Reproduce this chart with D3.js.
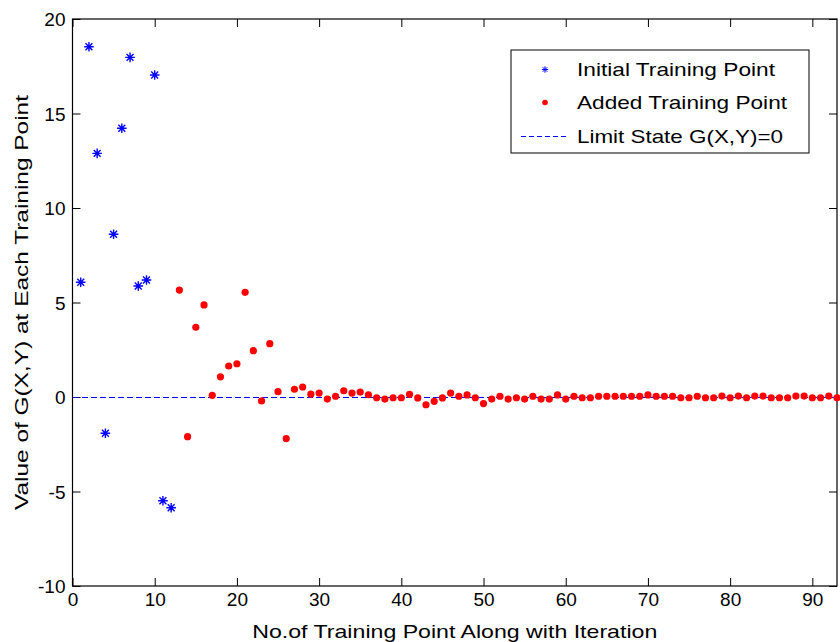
<!DOCTYPE html>
<html>
<head>
<meta charset="utf-8">
<script src="https://cdn.jsdelivr.net/npm/d3@7"></script>
<style>
body { margin: 0; background: #fff; }
text { font-family: "Liberation Sans", Arial, sans-serif; }
</style>
</head>
<body>
<script>
// initial training points (iterations 1..12)
var initX = [1, 2, 3, 4, 5, 6, 7, 8, 9, 10, 11, 12];
var initY = [6.07, 18.53, 12.89, -1.92, 8.61, 14.22, 17.97, 5.87, 6.19, 17.04, -5.49, -5.86];

// added training points (iterations 13..93)
var addedY = [5.66, -2.1, 3.69, 4.87, 0.09, 1.07, 1.64, 1.76, 5.54, 2.45,
  -0.21, 2.82, 0.28, -2.2, 0.41, 0.53, 0.15, 0.21, -0.11, 0.04,
  0.33, 0.21, 0.26, 0.12, -0.04, -0.11, -0.04, -0.04, 0.14, -0.05,
  -0.41, -0.23, -0.05, 0.21, 0.04, 0.11, -0.04, -0.35, -0.11, 0.04,
  -0.11, -0.04, -0.11, 0.04, -0.11, -0.11, 0.11, -0.11, 0.04, -0.04,
  -0.04, 0.04, 0.04, 0.04, 0.04, 0.04, 0.04, 0.11, 0.04, 0.04,
  0.04, -0.04, -0.04, 0.04, -0.04, -0.04, 0.05, -0.04, 0.05, -0.04,
  0.05, 0.05, -0.04, -0.04, -0.04, 0.05, 0.05, -0.04, -0.04, 0.05,
  -0.04];
var addedX = addedY.map(function(d, i) { return i + 13; });

var xTicks = [0, 10, 20, 30, 40, 50, 60, 70, 80, 90];
var yTicks = [-10, -5, 0, 5, 10, 15, 20];
var legendLabels = ["Initial Training Point", "Added Training Point", "Limit State G(X,Y)=0"];

var margin = {top: 19, right: 3, bottom: 56, left: 72.5},
  width = 840 - margin.left - margin.right,
  height = 642 - margin.top - margin.bottom;

var svg = d3.select("body").append("svg")
  .attr("width", 840)
  .attr("height", 642)
  .append("g")
  .attr("transform", "translate(" + margin.left + "," + margin.top + ")");

var xScale = d3.scaleLinear().domain([0, 93]).range([0, width]);
var yScale = d3.scaleLinear().domain([-10, 20]).range([height, 0]);

var tickLen = 8;
var fmt = function(d) { return String(d); };

// axes, ticks pointing inward (bottom/left with labels, top/right without)
var xAxis = d3.axisBottom(xScale).tickValues(xTicks).tickSize(-tickLen).tickPadding(7).tickFormat(fmt);
var yAxis = d3.axisLeft(yScale).tickValues(yTicks).tickSize(-tickLen).tickPadding(7).tickFormat(fmt);

var gx = svg.append("g")
  .attr("transform", "translate(0," + height + ")")
  .call(xAxis);
var gy = svg.append("g").call(yAxis);
var gxt = svg.append("g")
  .call(d3.axisTop(xScale).tickValues(xTicks).tickSize(-tickLen).tickFormat(""));
var gyr = svg.append("g")
  .attr("transform", "translate(" + width + ",0)")
  .call(d3.axisRight(yScale).tickValues(yTicks).tickSize(-tickLen).tickFormat(""));

[gx, gy, gxt, gyr].forEach(function(g) {
  g.select(".domain").remove();
  g.selectAll(".tick line").attr("stroke", "#000").attr("stroke-width", 1);
  g.selectAll(".tick text")
    .style("font-size", "19px")
    .style("font-family", "'Liberation Sans', Arial, sans-serif")
    .attr("fill", "#000");
});
gy.selectAll(".tick text").attr("dy", "0.36em");

// frame
svg.append("rect")
  .attr("width", width)
  .attr("height", height)
  .attr("fill", "none")
  .attr("stroke", "#000")
  .attr("stroke-width", 1.2);

// limit state line
svg.append("line")
  .attr("x1", xScale(0)).attr("x2", xScale(93))
  .attr("y1", yScale(0) + 0.5).attr("y2", yScale(0) + 0.5)
  .attr("stroke", "#0000ff")
  .attr("stroke-width", 1)
  .attr("shape-rendering", "crispEdges")
  .attr("stroke-dasharray", "6,3");

// asterisk marker
function starPath(r) {
  var d = r * 0.72;
  return "M" + (-r) + ",0L" + r + ",0M0," + (-r) + "L0," + r +
    "M" + (-d) + "," + (-d) + "L" + d + "," + d +
    "M" + (-d) + "," + d + "L" + d + "," + (-d);
}

var initData = initX.map(function(x, i) { return {x: x, y: initY[i]}; });
var addedData = addedX.map(function(x, i) { return {x: x, y: addedY[i]}; });

svg.selectAll(".init")
  .data(initData)
  .enter().append("path")
  .attr("class", "init")
  .attr("transform", function(d) { return "translate(" + xScale(d.x) + "," + yScale(d.y) + ")"; })
  .attr("d", starPath(4.8))
  .attr("stroke", "#0000ff")
  .attr("stroke-width", 1.4)
  .attr("fill", "none");

svg.selectAll(".added")
  .data(addedData)
  .enter().append("circle")
  .attr("class", "added")
  .attr("cx", function(d) { return xScale(d.x); })
  .attr("cy", function(d) { return yScale(d.y); })
  .attr("r", 3.6)
  .attr("fill", "#ff0000");

// axis labels
svg.append("text")
  .attr("x", width / 2)
  .attr("y", height + 52)
  .attr("textLength", 405)
  .attr("lengthAdjust", "spacingAndGlyphs")
  .style("text-anchor", "middle")
  .style("font-size", "19px")
  .text("No.of Training Point Along with Iteration");

svg.append("text")
  .attr("transform", "rotate(-90)")
  .attr("x", -height / 2)
  .attr("y", 28 - margin.left)
  .attr("textLength", 415)
  .attr("lengthAdjust", "spacingAndGlyphs")
  .style("text-anchor", "middle")
  .style("font-size", "19px")
  .text("Value of G(X,Y) at Each Training Point");

// legend
var lg = svg.append("g")
  .attr("transform", "translate(" + (511 - margin.left) + "," + (50 - margin.top) + ")");

lg.append("rect")
  .attr("width", 298)
  .attr("height", 103)
  .attr("fill", "#fff")
  .attr("stroke", "#000")
  .attr("stroke-width", 1);

var rowY = [19.5, 52.5, 86.5];
var legendWidths = [198, 210, 206];
lg.append("path")
  .attr("transform", "translate(34," + rowY[0] + ")")
  .attr("d", starPath(3.2))
  .attr("stroke", "#0000ff")
  .attr("stroke-width", 1)
  .attr("fill", "none");
lg.append("circle")
  .attr("cx", 34).attr("cy", rowY[1])
  .attr("r", 2.8)
  .attr("fill", "#ff0000");
lg.append("line")
  .attr("x1", 10).attr("x2", 56)
  .attr("y1", rowY[2]).attr("y2", rowY[2])
  .attr("stroke", "#0000ff")
  .attr("stroke-width", 1)
  .attr("shape-rendering", "crispEdges")
  .attr("stroke-dasharray", "5,3");

lg.selectAll(".ltext")
  .data(legendLabels)
  .enter().append("text")
  .attr("class", "ltext")
  .attr("x", 66)
  .attr("y", function(d, i) { return rowY[i]; })
  .attr("dy", "0.36em")
  .attr("textLength", function(d, i) { return legendWidths[i]; })
  .attr("lengthAdjust", "spacingAndGlyphs")
  .style("font-size", "19px")
  .text(function(d) { return d; });
</script>
</body>
</html>
